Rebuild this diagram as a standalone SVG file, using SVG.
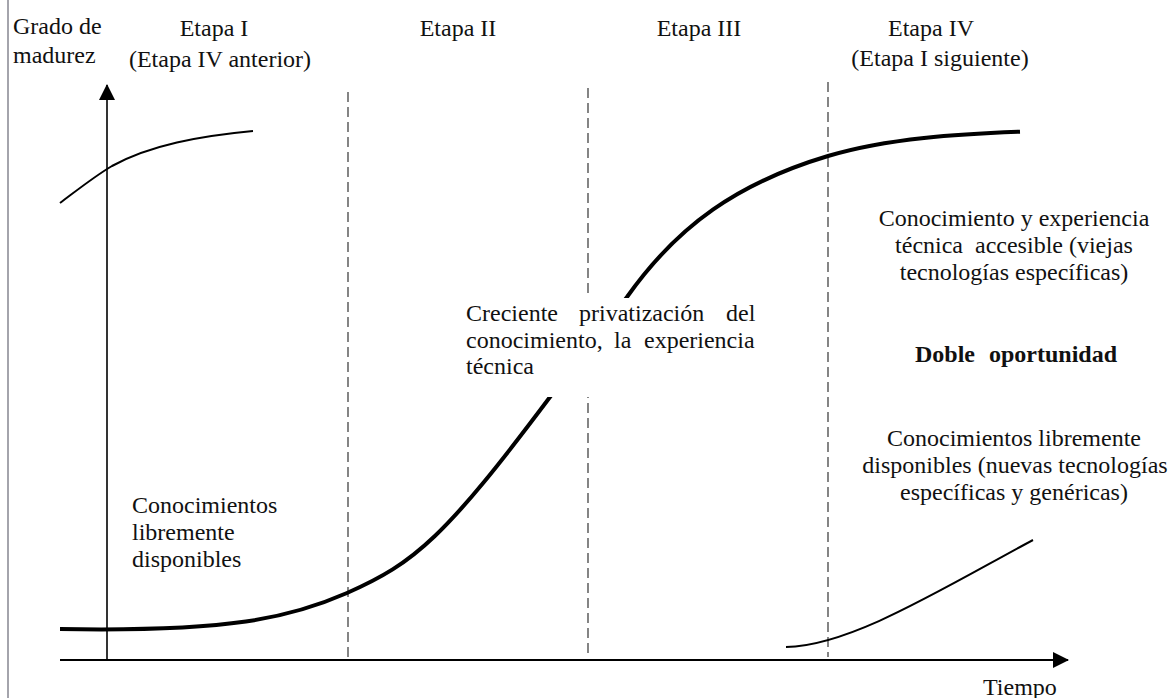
<svg xmlns="http://www.w3.org/2000/svg" width="1170" height="698" viewBox="0 0 1170 698">
  <style>
    .t { font-family: "Liberation Serif", "Times New Roman", serif; font-size: 24px; fill: #111; }
    .c { text-anchor: middle; }
    .b { font-weight: bold; }
    .divider { stroke: #444; stroke-width: 1.3; stroke-dasharray: 10 5; fill: none; }
    .axis { stroke: #000; fill: none; }
    .thin { stroke: #000; stroke-width: 2; fill: none; }
    .thick { stroke: #000; stroke-width: 4; fill: none; }
  </style>
  <defs>
    <marker id="arrow" viewBox="0 0 16 16" refX="15" refY="8" markerWidth="16" markerHeight="16" markerUnits="userSpaceOnUse" orient="auto">
      <path d="M0,0 L16,8 L0,16 Z" fill="#000"/>
    </marker>
  </defs>
  <rect width="1170" height="698" fill="#fff"/>
  <!-- page margin rule -->
  <line x1="8" y1="0" x2="8" y2="698" stroke="#a4a4ac" stroke-width="2"/>

  <!-- stage dividers -->
  <g id="stage-dividers">
    <line class="divider" x1="348" y1="92" x2="348" y2="657"/>
    <line class="divider" x1="588" y1="88" x2="588" y2="657"/>
    <line class="divider" x1="828" y1="82" x2="828" y2="657"/>
  </g>

  <!-- axes -->
  <g id="axes">
    <line class="axis" stroke-width="1.6" x1="107" y1="660" x2="107" y2="85" marker-end="url(#arrow)"/>
    <line class="axis" stroke-width="2" x1="60" y1="660" x2="1068" y2="660" marker-end="url(#arrow)"/>
  </g>

  <!-- maturity curves -->
  <g id="connectors">
    <path id="curve-previous" class="thin" d="M60,203 C80,188 95,176 112,166 C150,145 200,136 253,131"/>
    <path id="curve-main" class="thick" d="M60,629 C230,632 290,618 347,593 C415,563 445,537 550,397 L627,297 C678,225 738,183 828,156 C888,138 960,134 1020,131.7"/>
    <path id="curve-next" class="thin" d="M786,647 C850,646 940,590 1033,540"/>
  </g>

  <!-- axis titles -->
  <g id="label-y-axis">
    <text class="t" x="13" y="34">Grado de</text>
    <text class="t" x="13" y="63">madurez</text>
  </g>
  <g id="label-x-axis">
    <text class="t" x="983" y="695">Tiempo</text>
  </g>

  <!-- stage headings -->
  <g id="stage-1">
    <text class="t c" x="214" y="36">Etapa I</text>
    <text class="t c" x="220" y="67">(Etapa IV anterior)</text>
  </g>
  <g id="stage-2">
    <text class="t c" x="458" y="36">Etapa II</text>
  </g>
  <g id="stage-3">
    <text class="t c" x="699" y="36">Etapa III</text>
  </g>
  <g id="stage-4">
    <text class="t c" x="931" y="36">Etapa IV</text>
    <text class="t c" x="940" y="66">(Etapa I siguiente)</text>
  </g>

  <!-- annotations -->
  <g id="note-free-knowledge">
    <text class="t" x="132" y="513">Conocimientos</text>
    <text class="t" x="132" y="540">libremente</text>
    <text class="t" x="132" y="567">disponibles</text>
  </g>
  <g id="note-privatization">
    <!-- white backing hides the curve and divider behind the justified paragraph -->
    <rect x="462" y="298" width="298" height="99" fill="#fff"/>
    <text class="t" y="321"><tspan x="466">Creciente</tspan><tspan x="579">privatización</tspan><tspan x="726">del</tspan></text>
    <text class="t" y="347.5"><tspan x="466">conocimiento,</tspan><tspan x="614">la</tspan><tspan x="644">experiencia</tspan></text>
    <text class="t" x="466" y="374">técnica</text>
  </g>
  <g id="note-accessible">
    <text class="t c" x="1014" y="226">Conocimiento y experiencia</text>
    <text class="t c" x="1014" y="253" xml:space="preserve">técnica  accesible (viejas</text>
    <text class="t c" x="1014" y="280">tecnologías específicas)</text>
  </g>
  <g id="note-double-opportunity">
    <text class="t b" y="362"><tspan x="915">Doble</tspan><tspan x="989">oportunidad</tspan></text>
  </g>
  <g id="note-new-technologies">
    <text class="t c" x="1014" y="446">Conocimientos libremente</text>
    <text class="t c" x="1015" y="473">disponibles (nuevas tecnologías</text>
    <text class="t c" x="1014" y="500">específicas y genéricas)</text>
  </g>
</svg>
